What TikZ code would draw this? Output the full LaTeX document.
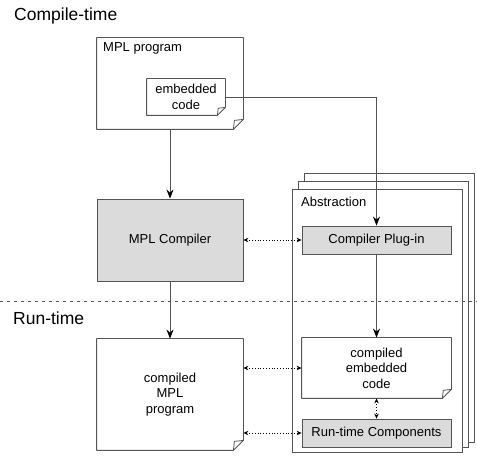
\documentclass[tikz,border=0pt]{standalone}
\usepackage{fontspec}
\setmainfont{Liberation Sans}
\usepackage{tikz}
\usetikzlibrary{arrows.meta}
\definecolor{boxgray}{rgb}{0.86,0.86,0.86}
\definecolor{edgegray}{rgb}{0.33,0.33,0.33}

\tikzset{
  box/.style={draw=edgegray, line width=0.8pt, inner sep=0pt, align=center,
    font=\fontsize{13}{15.5}\selectfont},
  graybox/.style={box, fill=boxgray},
  notebox/.style={box, draw=none},
  tag/.style={anchor=base west, inner sep=0pt, font=\fontsize{13}{15.5}\selectfont},
  heading/.style={anchor=base west, inner sep=0pt, font=\fontsize{17.5}{20}\selectfont},
  flow/.style={-{Stealth[length=9pt,width=7pt,color=black]}, line width=0.8pt, edgegray},
  call/.style={{Stealth[length=5pt,width=4.5pt]}-{Stealth[length=5pt,width=4.5pt]}, dotted, line width=0.8pt},
}
% outline with folded corner for a named node
\newcommand{\dogear}[2]{%
  \draw[edgegray, line width=0.8pt, line join=round] (#1.north west) -- (#1.north east)
    -- ([yshift=#2pt]#1.south east) -- ([xshift=-#2pt]#1.south east) -- (#1.south west) -- cycle;
  \draw[edgegray, line width=0.8pt, line join=round] ([yshift=#2pt]#1.south east)
    -- ([xshift=-#2*0.9pt, yshift=#2*0.9pt]#1.south east) -- ([xshift=-#2pt]#1.south east);
}

\begin{document}
\begin{tikzpicture}[x=1pt,y=-1pt]
\useasboundingbox (0,0) rectangle (477,462);

% stacked abstractions
\node[box, fill=white, minimum width=170pt, minimum height=269pt] (abs3) at (389,307.5) {};
\node[box, fill=white, minimum width=170pt, minimum height=266pt] (abs2) at (383,314) {};
\node[box, fill=white, minimum width=170pt, minimum height=263pt] (abs1) at (377,320.5) {};
\node[tag] (abstitle) at (301,207) {Abstraction};

% compile-time side
\node[heading] (ct) at (14,20.5) {Compile-time};
\node[notebox, minimum width=146pt, minimum height=91pt] (prog) at (170,83.5) {};
\dogear{prog}{10}
\node[tag] (progtitle) at (103,52) {MPL program};
\node[notebox, minimum width=78pt, minimum height=36pt] (emb) at (186,97) {embedded\\code};
\dogear{emb}{8}
\node[graybox, minimum width=146pt, minimum height=82pt] (comp) at (170,240) {MPL Compiler};
\node[graybox, minimum width=149pt, minimum height=28pt] (plugin) at (376.5,240) {Compiler Plug-in};

% run-time side
\node[heading] (rt) at (13,325) {Run-time};
\node[notebox, minimum width=146pt, minimum height=111pt] (cprog) at (170,394.5) {compiled\\MPL\\program};
\dogear{cprog}{10}
\node[notebox, minimum width=149pt, minimum height=60pt] (cemb) at (376.5,368) {compiled\\embedded\\code};
\dogear{cemb}{9}
\node[graybox, minimum width=149pt, minimum height=28pt] (rtc) at (376.5,433) {Run-time Components};

% connectors
\draw[flow] (prog) -- (comp);
\draw[flow] (comp) -- (cprog);
\draw[flow] (emb.east) -| (plugin.north);
\draw[flow] (plugin) -- (cemb);
\draw[call] (comp.east) -- (plugin.west);
\draw[call] (cemb.west -| cprog.east) -- (cemb.west);
\draw[call] (rtc.west -| cprog.east) -- (rtc.west);
\draw[call] (cemb.south) -- (rtc.north);

% time separator
\draw[edgegray, line width=0.8pt, dash pattern=on 3pt off 4pt] (0,301.5) -- (477,301.5);
\end{tikzpicture}
\end{document}
